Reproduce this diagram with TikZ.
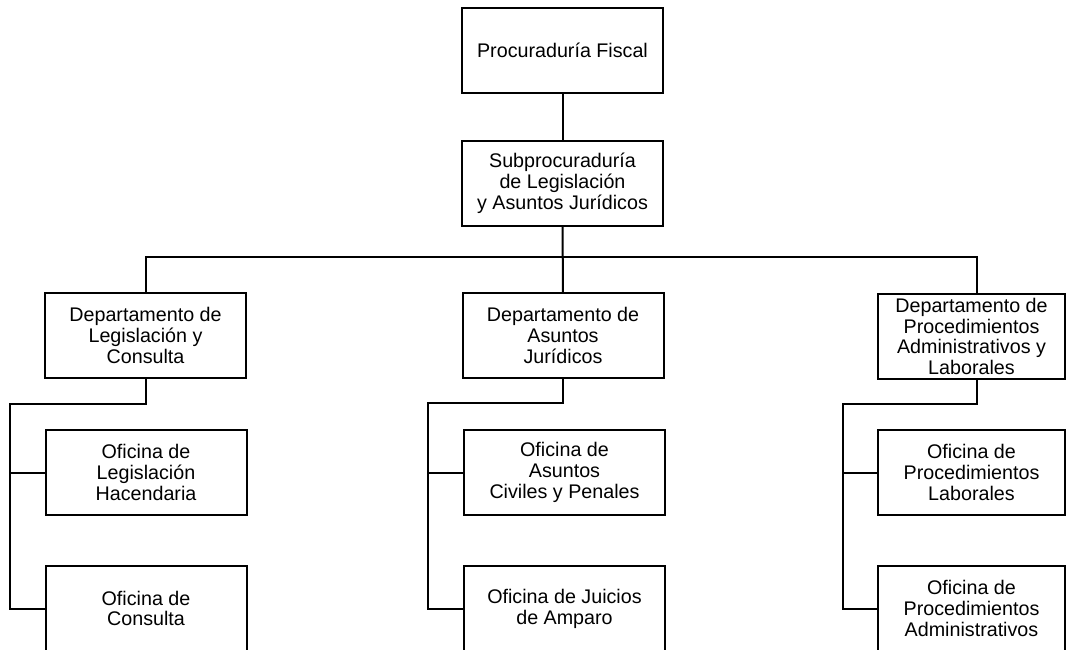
\documentclass[tikz,border=0pt]{standalone}
\usepackage{fontspec}
\setmainfont{Liberation Sans}
\usetikzlibrary{positioning}
\tikzset{
	unit/.style      = {draw, line width=1pt, rectangle, align=center,
		minimum width=100.5pt, minimum height=42.5pt, inner sep=1pt,
		font=\fontsize{9.85}{10.4}\selectfont},
	unitnarrow/.style = {unit, minimum width=93.5pt},
	joint/.style     = {coordinate} % bend point
}

\begin{document}
\begin{tikzpicture}[x=0.5pt, y=-0.5pt, line width=1pt]
		\useasboundingbox (0,0) rectangle (1067,649);
		\clip (0,0) rectangle (1067,649);
		\draw
		% Top of the chart
		node at (562.5,50.5)  [unit] (fiscal) {Procuraduría Fiscal}
		node at (562.5,183.5) [unit] (subpro) {Subprocuraduría\\de Legislación\\y Asuntos Jurídicos}
		% Departments
		node at (145.5,335.5) [unit] (deplc)  {Departamento de\\Legislación y\\Consulta}
		node at (563,335.5)   [unit] (depaj)  {Departamento de\\Asuntos\\Jurídicos}
		node at (971.5,336.5) [unitnarrow] (deppal) {Departamento de\\Procedimientos\\Administrativos y\\Laborales}
		% Offices
		node at (146,472.5)   [unit] (ofleg)  {Oficina de\\Legislación\\Hacendaria}
		node at (146,608.5)   [unit] (ofcon)  {Oficina de\\Consulta}
		node at (564.5,472.5) [unit] (ofacp)  {Oficina de\\Asuntos\\Civiles y Penales}
		node at (564.5,608.5) [unit] (ofja)   {Oficina de Juicios\\de Amparo}
		node at (971.5,472.5) [unitnarrow] (ofpl) {Oficina de\\Procedimientos\\Laborales}
		node at (971.5,608.5) [unitnarrow] (ofpa) {Oficina de\\Procedimientos\\Administrativos};
		
		\draw
		node at (977,257) [joint] (busR) {}
		node at (10,404)  [joint] (spL) {}
		node at (428,403) [joint] (spM) {}
		node at (843,404) [joint] (spR) {};
		
		\draw[-](fiscal) -- (subpro);
		\draw[-](subpro) -- (depaj);
		\draw[-](deplc.north) |- (busR) -- (busR |- deppal.north);
		
		\draw[-](deplc.south) |- (spL) |- (ofcon.west);
		\draw[-](spL |- ofleg.west) -- (ofleg.west);
		\draw[-](depaj.south) |- (spM) |- (ofja.west);
		\draw[-](spM |- ofacp.west) -- (ofacp.west);
		\draw[-](busR |- deppal.south) |- (spR) |- (ofpa.west);
		\draw[-](spR |- ofpl.west) -- (ofpl.west);
		
		\end{tikzpicture}
\end{document}
